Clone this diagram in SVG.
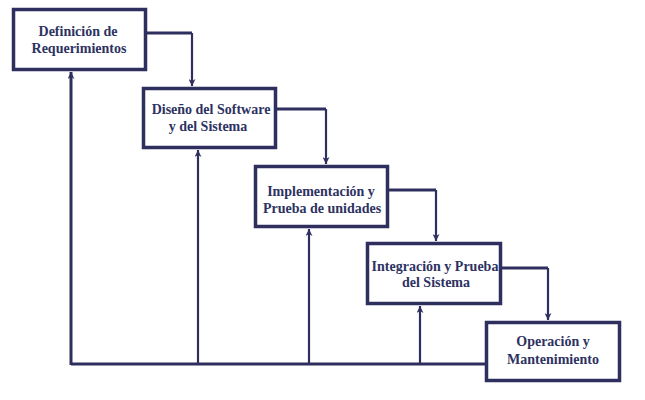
<svg xmlns="http://www.w3.org/2000/svg" width="645" height="400" viewBox="0 0 645 400">
<style>
.box{fill:#fff;stroke:#2f2f5f;stroke-width:3.5}
.t{font-family:'Liberation Serif','Times New Roman',serif;font-weight:bold;font-size:14px;fill:#2d3262;text-anchor:middle}
.c{fill:none;stroke:#2f2f5f;stroke-width:3}
.v{fill:none;stroke:#2f2f5f;stroke-width:2.2}
</style>
<defs>
<marker id="ah" viewBox="0 0 10 10" refX="10" refY="5" markerWidth="7" markerHeight="7" markerUnits="userSpaceOnUse" orient="auto">
<path d="M0,0 L10,5 L0,10 L3,5 Z" fill="#2f2f5f"/>
</marker>
</defs>
<rect width="645" height="400" fill="#fff"/>
<g id="connectors">
<path class="c" d="M146,33 H192"/>
<path class="v" d="M192,33 V86" marker-end="url(#ah)"/>
<path class="c" d="M276,109 H326"/>
<path class="v" d="M326,109 V164" marker-end="url(#ah)"/>
<path class="c" d="M388,190 H436"/>
<path class="v" d="M436,190 V241" marker-end="url(#ah)"/>
<path class="c" d="M501,268 H548"/>
<path class="v" d="M548,268 V320" marker-end="url(#ah)"/>
<path class="c" d="M71,364 H486"/>
<path class="c" d="M71,365 V72" marker-end="url(#ah)"/>
<path class="v" d="M198,364 V150" marker-end="url(#ah)"/>
<path class="v" d="M309,364 V229" marker-end="url(#ah)"/>
<path class="v" d="M420,364 V306" marker-end="url(#ah)"/>
</g>
<g id="n1">
<rect class="box" x="13.5" y="9.5" width="132" height="60"/>
<text class="t" x="78" y="36">Definición de</text>
<text class="t" x="79" y="53">Requerimientos</text>
</g>
<g id="n2">
<rect class="box" x="143.5" y="88.5" width="132" height="59"/>
<text class="t" x="211" y="114">Diseño del Software</text>
<text class="t" x="208" y="131">y del Sistema</text>
</g>
<g id="n3">
<rect class="box" x="255.5" y="166.5" width="132" height="60"/>
<text class="t" x="321" y="196">Implementación y</text>
<text class="t" x="322" y="213">Prueba de unidades</text>
</g>
<g id="n4">
<rect class="box" x="367.5" y="243.5" width="133" height="60"/>
<text class="t" x="435" y="271">Integración y Prueba</text>
<text class="t" x="436" y="287">del Sistema</text>
</g>
<g id="n5">
<rect class="box" x="486.5" y="322.5" width="133" height="58"/>
<text class="t" x="553" y="346">Operación y</text>
<text class="t" x="553" y="364">Mantenimiento</text>
</g>
</svg>
